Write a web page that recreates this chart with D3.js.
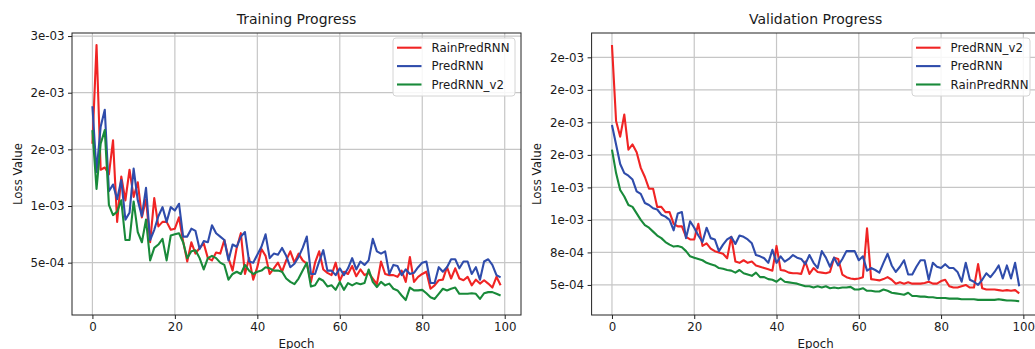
<!DOCTYPE html>
<html>
<head>
<meta charset="utf-8">
<script src="https://cdn.jsdelivr.net/npm/d3@7/dist/d3.min.js"></script>
<style>
  html, body { margin: 0; padding: 0; background: #fff; }
  svg { display: block; }
  text { font-family: "DejaVu Sans", sans-serif; fill: #1a1a1a; }
</style>
</head>
<body>
<svg id="chart" width="1035" height="349"></svg>
<script>
// ---------- data ----------
const xTicks = [0, 20, 40, 60, 80, 100];

// Training panel
const trainTitle = "Training Progress";
const trainNames = ["RainPredRNN", "PredRNN", "PredRNN_v2"];
const trainYTicks = [5e-4, 10e-4, 15e-4, 20e-4, 25e-4];
const trainYLabels = ["5e-04", "1e-03", "2e-03", "2e-03", "3e-03"];
const trainRed = [
  15.5e-4, 24.2e-4, 13.2e-4, 13.4e-4, 12.8e-4, 15.8e-4, 8.6e-4, 12.6e-4, 10.5e-4, 13.2e-4,
  10.8e-4, 12.1e-4, 9.0e-4, 10.6e-4, 6.8e-4, 10.7e-4, 8.2e-4, 8.6e-4, 8.6e-4, 7.9e-4,
  8.0e-4, 9.0e-4, 6.9e-4, 5.1e-4, 6.8e-4, 5.8e-4, 6.3e-4, 6.7e-4, 5.4e-4, 5.2e-4,
  5.9e-4, 5.8e-4, 7.0e-4, 5.4e-4, 4.3e-4, 6.3e-4, 7.6e-4, 4.0e-4, 5.4e-4, 3.5e-4,
  4.6e-4, 6.2e-4, 5.6e-4, 4.0e-4, 4.5e-4, 5.0e-4, 4.2e-4, 5.2e-4, 6.0e-4, 5.0e-4,
  5.8e-4, 5.2e-4, 4.9e-4, 3.3e-4, 5.0e-4, 6.0e-4, 4.4e-4, 4.1e-4, 3.9e-4, 5.0e-4,
  3.4e-4, 4.2e-4, 4.0e-4, 4.7e-4, 3.8e-4, 4.4e-4, 3.9e-4, 4.1e-4, 3.6e-4, 3.1e-4,
  5.1e-4, 4.0e-4, 3.9e-4, 3.9e-4, 3.75e-4, 4.3e-4, 3.3e-4, 5.5e-4, 3.3e-4, 3.75e-4,
  4.0e-4, 4.2e-4, 2.7e-4, 3.0e-4, 3.45e-4, 3.5e-4, 4.6e-4, 3.6e-4, 4.5e-4, 3.6e-4,
  3.45e-4, 3.75e-4, 3.0e-4, 3.5e-4, 3.15e-4, 3.45e-4, 3.15e-4, 2.8e-4, 3.75e-4, 3.0e-4
];
const trainBlue = [
  18.8e-4, 13.0e-4, 17.0e-4, 18.5e-4, 11.3e-4, 11.9e-4, 10.6e-4, 12.3e-4, 8.8e-4, 9.4e-4,
  13.3e-4, 10.5e-4, 9.1e-4, 11.6e-4, 7.0e-4, 7.9e-4, 9.1e-4, 9.9e-4, 8.6e-4, 9.9e-4,
  9.6e-4, 10.2e-4, 7.3e-4, 7.3e-4, 8.0e-4, 7.8e-4, 6.2e-4, 6.9e-4, 6.8e-4, 8.3e-4,
  7.6e-4, 7.3e-4, 7.0e-4, 5.2e-4, 6.6e-4, 6.4e-4, 7.3e-4, 7.7e-4, 5.1e-4, 5.0e-4,
  5.7e-4, 6.4e-4, 7.5e-4, 5.4e-4, 5.8e-4, 5.7e-4, 6.3e-4, 5.6e-4, 4.6e-4, 4.9e-4,
  5.5e-4, 6.3e-4, 7.3e-4, 4.0e-4, 4.0e-4, 5.1e-4, 6.1e-4, 4.3e-4, 4.3e-4, 3.9e-4,
  4.5e-4, 3.9e-4, 4.5e-4, 5.4e-4, 4.4e-4, 5.1e-4, 4.8e-4, 5.2e-4, 7.1e-4, 6.0e-4,
  5.8e-4, 6.0e-4, 4.0e-4, 4.8e-4, 4.7e-4, 3.9e-4, 4.4e-4, 4.0e-4, 4.1e-4, 4.6e-4,
  5.0e-4, 5.1e-4, 3.2e-4, 3.2e-4, 4.6e-4, 4.2e-4, 4.6e-4, 5.3e-4, 5.3e-4, 4.5e-4,
  5.1e-4, 5.1e-4, 4.0e-4, 4.6e-4, 3.5e-4, 5.1e-4, 5.3e-4, 4.8e-4, 3.9e-4, 3.7e-4
];
const trainGreen = [
  16.7e-4, 11.5e-4, 15.5e-4, 16.7e-4, 10.1e-4, 9.2e-4, 9.5e-4, 10.5e-4, 7.0e-4, 7.0e-4,
  10.4e-4, 7.7e-4, 6.8e-4, 8.8e-4, 5.2e-4, 6.3e-4, 6.6e-4, 7.1e-4, 5.2e-4, 7.4e-4,
  7.5e-4, 7.6e-4, 6.8e-4, 5.4e-4, 6.0e-4, 6.1e-4, 5.4e-4, 4.4e-4, 5.4e-4, 5.6e-4,
  5.4e-4, 5.0e-4, 4.8e-4, 3.5e-4, 4.0e-4, 4.2e-4, 4.0e-4, 4.8e-4, 4.3e-4, 4.0e-4,
  4.2e-4, 4.3e-4, 4.6e-4, 4.5e-4, 4.3e-4, 4.3e-4, 4.2e-4, 3.6e-4, 3.3e-4, 3.1e-4,
  3.6e-4, 4.3e-4, 5.0e-4, 2.9e-4, 3.0e-4, 3.6e-4, 3.4e-4, 2.9e-4, 3.0e-4, 2.6e-4,
  3.3e-4, 2.6e-4, 3.2e-4, 3.0e-4, 3.2e-4, 3.1e-4, 3.2e-4, 4.4e-4, 3.3e-4, 2.85e-4,
  3.3e-4, 3.0e-4, 3.15e-4, 2.7e-4, 2.55e-4, 2.1e-4, 1.7e-4, 2.8e-4, 2.55e-4, 2.55e-4,
  2.6e-4, 2.3e-4, 1.95e-4, 1.8e-4, 2.25e-4, 2.7e-4, 2.55e-4, 2.7e-4, 2.8e-4, 2.25e-4,
  2.25e-4, 2.25e-4, 2.3e-4, 2.25e-4, 1.8e-4, 2.3e-4, 2.4e-4, 2.4e-4, 2.25e-4, 2.1e-4
];

// Validation panel
const valTitle = "Validation Progress";
const valNames = ["PredRNN_v2", "PredRNN", "RainPredRNN"];
const valYTicks = [5e-4, 7.5e-4, 10e-4, 12.5e-4, 15e-4, 17.5e-4, 20e-4, 22.5e-4];
const valYLabels = ["5e-04", "8e-04", "1e-03", "1e-03", "2e-03", "2e-03", "2e-03", "2e-03"];
const valRed = [
  23.45e-4, 17.6e-4, 16.4e-4, 18.1e-4, 15.4e-4, 15.8e-4, 15.2e-4, 14.0e-4, 13.3e-4, 12.4e-4,
  12.4e-4, 11.0e-4, 11.0e-4, 10.6e-4, 10.6e-4, 9.7e-4, 9.5e-4, 9.5e-4, 8.7e-4, 8.5e-4,
  8.5e-4, 9.7e-4, 8.0e-4, 8.2e-4, 7.8e-4, 7.6e-4, 7.5e-4, 7.4e-4, 7.05e-4, 8.7e-4,
  6.8e-4, 6.7e-4, 6.9e-4, 6.7e-4, 6.8e-4, 6.5e-4, 6.4e-4, 6.3e-4, 6.2e-4, 6.1e-4,
  8.0e-4, 6.15e-4, 6.1e-4, 5.95e-4, 5.9e-4, 5.9e-4, 5.85e-4, 6.8e-4, 5.85e-4, 6.3e-4,
  6.0e-4, 5.95e-4, 5.9e-4, 6.0e-4, 7.1e-4, 7.0e-4, 5.8e-4, 5.6e-4, 5.5e-4, 5.45e-4,
  5.5e-4, 5.6e-4, 9.35e-4, 5.45e-4, 5.4e-4, 5.35e-4, 5.45e-4, 5.6e-4, 5.4e-4, 5.1e-4,
  5.2e-4, 5.1e-4, 5.2e-4, 5.1e-4, 5.1e-4, 5.1e-4, 5.15e-4, 5.25e-4, 5.1e-4, 5.1e-4,
  5.3e-4, 5.4e-4, 4.9e-4, 4.8e-4, 4.8e-4, 4.9e-4, 5.0e-4, 4.8e-4, 4.8e-4, 6.6e-4,
  4.75e-4, 4.65e-4, 4.65e-4, 4.65e-4, 4.6e-4, 4.55e-4, 4.6e-4, 4.55e-4, 4.6e-4, 4.35e-4
];
const valBlue = [
  17.3e-4, 15.8e-4, 14.3e-4, 13.6e-4, 13.4e-4, 13.1e-4, 12.2e-4, 12.0e-4, 11.3e-4, 11.15e-4,
  10.9e-4, 10.8e-4, 10.4e-4, 10.25e-4, 10.0e-4, 9.2e-4, 10.5e-4, 10.6e-4, 8.6e-4, 9.9e-4,
  9.4e-4, 8.8e-4, 8.3e-4, 9.4e-4, 8.6e-4, 8.5e-4, 7.6e-4, 8.1e-4, 8.5e-4, 8.7e-4,
  8.15e-4, 8.8e-4, 8.7e-4, 8.5e-4, 8.2e-4, 7.3e-4, 7.2e-4, 7.05e-4, 6.7e-4, 7.7e-4,
  6.7e-4, 7.2e-4, 6.8e-4, 7.0e-4, 7.3e-4, 7.1e-4, 7.0e-4, 6.6e-4, 7.3e-4, 6.7e-4,
  6.3e-4, 7.6e-4, 7.1e-4, 6.4e-4, 7.1e-4, 6.5e-4, 7.0e-4, 7.6e-4, 7.6e-4, 7.6e-4,
  6.9e-4, 7.2e-4, 6.1e-4, 6.3e-4, 6.15e-4, 5.95e-4, 6.7e-4, 7.4e-4, 6.5e-4, 6.0e-4,
  6.4e-4, 6.9e-4, 5.8e-4, 5.8e-4, 6.4e-4, 6.9e-4, 6.9e-4, 5.4e-4, 6.7e-4, 6.4e-4,
  6.3e-4, 6.6e-4, 6.3e-4, 6.3e-4, 6.0e-4, 5.25e-4, 6.7e-4, 5.4e-4, 5.25e-4, 5.0e-4,
  5.4e-4, 5.9e-4, 5.6e-4, 6.0e-4, 6.5e-4, 5.5e-4, 6.5e-4, 5.5e-4, 6.7e-4, 4.9e-4
];
const valGreen = [
  15.4e-4, 13.6e-4, 12.3e-4, 11.8e-4, 11.15e-4, 11.0e-4, 10.5e-4, 10.0e-4, 9.6e-4, 9.4e-4,
  9.1e-4, 8.8e-4, 8.6e-4, 8.3e-4, 8.1e-4, 7.95e-4, 8.0e-4, 7.9e-4, 7.6e-4, 7.2e-4,
  7.1e-4, 7.0e-4, 6.9e-4, 6.7e-4, 6.6e-4, 6.5e-4, 6.3e-4, 6.25e-4, 6.15e-4, 6.1e-4,
  5.95e-4, 6.15e-4, 5.9e-4, 5.8e-4, 5.7e-4, 5.95e-4, 5.6e-4, 5.6e-4, 5.45e-4, 5.4e-4,
  5.25e-4, 5.5e-4, 5.25e-4, 5.2e-4, 5.15e-4, 5.1e-4, 5.0e-4, 4.9e-4, 4.9e-4, 4.8e-4,
  4.9e-4, 4.8e-4, 4.9e-4, 4.75e-4, 4.8e-4, 4.75e-4, 4.8e-4, 4.8e-4, 4.85e-4, 4.65e-4,
  4.65e-4, 4.75e-4, 4.55e-4, 4.55e-4, 4.5e-4, 4.5e-4, 4.65e-4, 4.55e-4, 4.4e-4, 4.35e-4,
  4.3e-4, 4.25e-4, 4.4e-4, 4.15e-4, 4.15e-4, 4.1e-4, 4.1e-4, 4.05e-4, 4.05e-4, 4.0e-4,
  4.0e-4, 4.0e-4, 3.95e-4, 3.95e-4, 3.95e-4, 3.9e-4, 3.9e-4, 3.9e-4, 3.9e-4, 3.85e-4,
  3.85e-4, 3.85e-4, 3.85e-4, 3.85e-4, 3.9e-4, 3.85e-4, 3.8e-4, 3.8e-4, 3.78e-4, 3.75e-4
];

// ---------- styling ----------
const RED = "#f02424", BLUE = "#2f4cab", GREEN = "#198a3a";
const colors = [RED, BLUE, GREEN];

const svg = d3.select("#chart");
svg.append("rect").attr("width", 1035).attr("height", 349).attr("fill", "#fff");

function drawPanel(cfg) {
  const top = 33, bottom = 315;
  const x = d3.scaleLinear().domain([-4.95, 103.95]).range([cfg.left, cfg.right]);
  const y = d3.scaleLinear().domain(cfg.yDomain).range([bottom, top]);
  const g = svg.append("g");

  // grid
  g.append("g").selectAll("line").data(xTicks).join("line")
    .attr("x1", d => x(d)).attr("x2", d => x(d)).attr("y1", top).attr("y2", bottom)
    .attr("stroke", "#c6c6c6").attr("stroke-width", 1.2);
  g.append("g").selectAll("line").data(cfg.yTicks).join("line")
    .attr("x1", cfg.left).attr("x2", cfg.right).attr("y1", d => y(d)).attr("y2", d => y(d))
    .attr("stroke", "#c6c6c6").attr("stroke-width", 1.2);

  // lines
  const line = d3.line().x((d, i) => x(i)).y(d => y(d));
  cfg.series.forEach((s, k) => {
    g.append("path").datum(s).attr("d", line)
      .attr("fill", "none").attr("stroke", colors[k]).attr("stroke-width", 2.1)
      .attr("stroke-linejoin", "round");
  });

  // axes
  const xa = g.append("g").attr("transform", `translate(0,${bottom})`)
    .call(d3.axisBottom(x).tickValues(xTicks).tickSize(4).tickPadding(3.5).tickFormat(d3.format("d")));
  const ya = g.append("g").attr("transform", `translate(${cfg.left},0)`)
    .call(d3.axisLeft(y).tickValues(cfg.yTicks).tickSize(4).tickPadding(3.5)
      .tickFormat((d, i) => cfg.yLabels[i]));
  [xa, ya].forEach(a => {
    a.select(".domain").remove();
    a.selectAll(".tick line").attr("stroke", "#222").attr("stroke-width", 1);
    a.selectAll("text").style("font-family", "DejaVu Sans").style("font-size", "11.8px").attr("fill", "#1a1a1a");
  });

  // spines
  g.append("rect").attr("x", cfg.left).attr("y", top)
    .attr("width", cfg.right - cfg.left).attr("height", bottom - top)
    .attr("fill", "none").attr("stroke", "#222").attr("stroke-width", 1);

  // title & labels
  g.append("text").attr("x", (cfg.left + cfg.right) / 2).attr("y", 24)
    .attr("text-anchor", "middle").style("font-size", "14px").text(cfg.title);
  g.append("text").attr("x", (cfg.left + cfg.right) / 2).attr("y", 347.5)
    .attr("text-anchor", "middle").style("font-size", "11.8px").text("Epoch");
  g.append("text").attr("transform", `translate(${cfg.yLabelX},${(top + bottom) / 2}) rotate(-90)`)
    .attr("text-anchor", "middle").style("font-size", "11.8px").text("Loss Value");

  // legend
  const lg = g.append("g").attr("transform", `translate(${cfg.legendX},38)`);
  lg.append("rect").attr("width", cfg.legendW).attr("height", 58).attr("rx", 3)
    .attr("fill", "#fff").attr("fill-opacity", 0.85).attr("stroke", "#d4d4d4").attr("stroke-width", 1);
  cfg.names.forEach((n, k) => {
    const yy = 9.7 + k * 18.4;
    lg.append("line").attr("x1", 4).attr("x2", 28.5).attr("y1", yy).attr("y2", yy)
      .attr("stroke", colors[k]).attr("stroke-width", 2.1);
    lg.append("text").attr("x", 38.5).attr("y", yy).attr("dy", "0.35em")
      .style("font-size", "11.8px").text(n);
  });
}

drawPanel({
  left: 72, right: 521, yDomain: [0.38e-4, 25.27e-4],
  yTicks: trainYTicks, yLabels: trainYLabels, title: trainTitle,
  series: [trainRed, trainBlue, trainGreen], names: trainNames,
  legendX: 393, legendW: 122, yLabelX: 22
});
drawPanel({
  left: 591.6, right: 1039.6, yDomain: [2.69e-4, 24.37e-4],
  yTicks: valYTicks, yLabels: valYLabels, title: valTitle,
  series: [valRed, valBlue, valGreen], names: valNames,
  legendX: 912, legendW: 118, yLabelX: 541
});
</script>
</body>
</html>
